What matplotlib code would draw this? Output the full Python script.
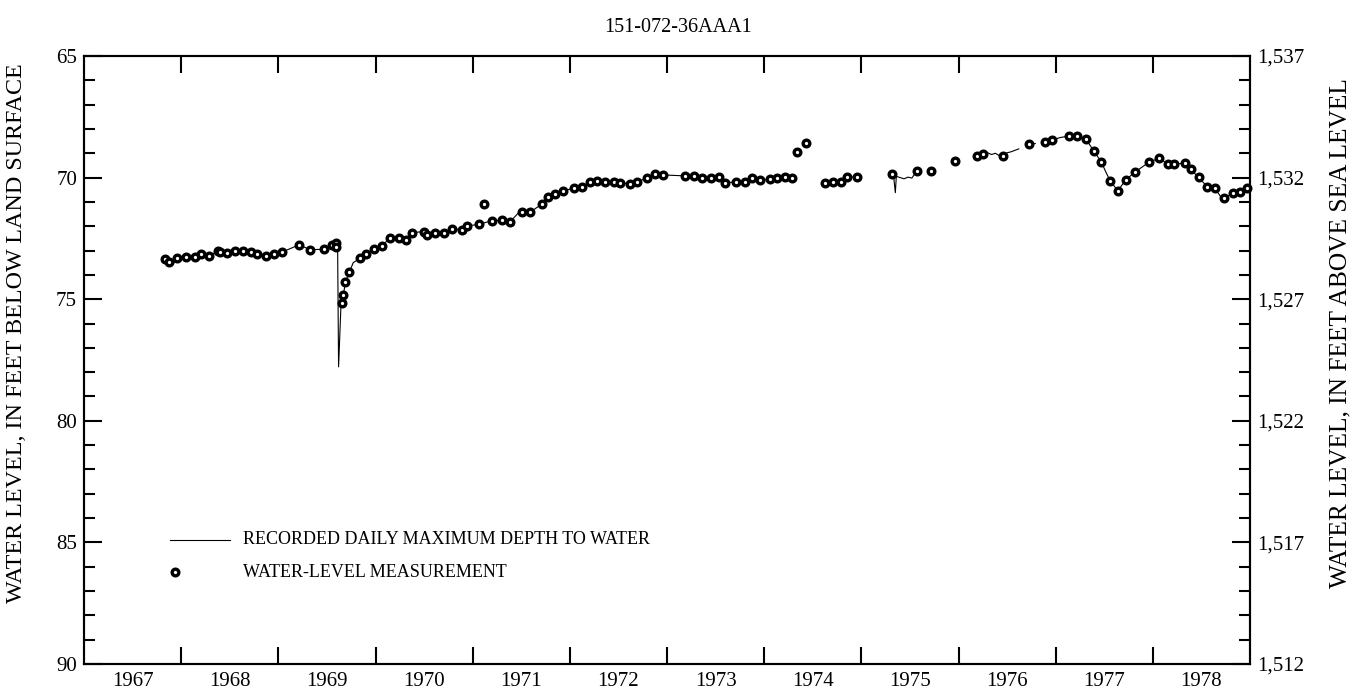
import numpy as np
import matplotlib.pyplot as plt
from matplotlib.ticker import MultipleLocator, FixedLocator, FuncFormatter

plt.rcParams['font.family'] = ['Liberation Serif', 'DejaVu Serif']

# water-level measurements (year, depth below land surface, ft)
meas_year = [1967.83, 1967.875, 1967.954, 1968.046, 1968.14, 1968.20, 1968.29, 1968.38, 1968.40,
             1968.475, 1968.55, 1968.64, 1968.72, 1968.78, 1968.87, 1968.96, 1969.04, 1969.21,
             1969.33, 1969.47, 1969.55, 1969.59, 1969.59, 1969.652, 1969.67, 1969.686, 1969.73,
             1969.84, 1969.90, 1969.98, 1970.07, 1970.15, 1970.24, 1970.31, 1970.38, 1970.50,
             1970.53, 1970.61, 1970.70, 1970.79, 1970.89, 1970.94, 1971.07, 1971.12, 1971.195,
             1971.30, 1971.38, 1971.51, 1971.59, 1971.71, 1971.78, 1971.85, 1971.93, 1972.04,
             1972.13, 1972.21, 1972.28, 1972.36, 1972.45, 1972.52, 1972.62, 1972.69, 1972.79,
             1972.88, 1972.955, 1973.19, 1973.28, 1973.36, 1973.45, 1973.535, 1973.60, 1973.71,
             1973.80, 1973.87, 1973.96, 1974.06, 1974.135, 1974.21, 1974.29, 1974.34, 1974.43,
             1974.63, 1974.71, 1974.79, 1974.85, 1974.96, 1975.32, 1975.57, 1975.72, 1975.96,
             1976.19, 1976.255, 1976.46, 1976.73, 1976.89, 1976.965, 1977.14, 1977.22, 1977.31,
             1977.39, 1977.47, 1977.56, 1977.64, 1977.72, 1977.82, 1977.96, 1978.06, 1978.16,
             1978.22, 1978.33, 1978.39, 1978.47, 1978.56, 1978.64, 1978.735, 1978.82, 1978.90,
             1978.97]
meas_depth = [73.36, 73.46, 73.29, 73.25, 73.25, 73.13, 73.21, 73.02, 73.05,
              73.11, 73.03, 73.02, 73.05, 73.13, 73.22, 73.13, 73.06, 72.77,
              72.96, 72.95, 72.77, 72.70, 72.84, 75.17, 74.83, 74.28, 73.89,
              73.32, 73.14, 72.94, 72.80, 72.47, 72.50, 72.57, 72.26, 72.22,
              72.36, 72.26, 72.26, 72.11, 72.15, 71.99, 71.92, 71.10, 71.77,
              71.76, 71.82, 71.43, 71.43, 71.09, 70.81, 70.67, 70.54, 70.44,
              70.37, 70.17, 70.14, 70.19, 70.19, 70.21, 70.26, 70.17, 70.03,
              69.85, 69.89, 69.93, 69.95, 70.03, 70.00, 69.96, 70.21, 70.18,
              70.17, 70.00, 70.10, 70.06, 70.03, 69.96, 70.00, 68.93, 68.59,
              70.24, 70.17, 70.17, 69.99, 69.96, 69.86, 69.73, 69.73, 69.32,
              69.11, 69.04, 69.11, 68.63, 68.55, 68.45, 68.29, 68.29, 68.41,
              68.89, 69.36, 70.13, 70.54, 70.10, 69.76, 69.37, 69.21, 69.44,
              69.44, 69.41, 69.66, 69.99, 70.37, 70.44, 70.85, 70.65, 70.58,
              70.44]

# recorded daily maximum depth to water (nan = no record)
rec_year = [1967.83, 1967.87, 1967.92, 1967.95, 1968.05, 1968.14, 1968.20, 1968.29, 1968.38,
            1968.47, 1968.55, 1968.64, 1968.72, 1968.78, 1968.87, 1968.96, 1969.04, 1969.21,
            1969.33, 1969.47, 1969.55, 1969.59, 1969.61, 1969.62, 1969.645, 1969.67, 1969.69,
            1969.73, 1969.77, 1969.84, 1969.90, 1969.98, 1970.07, 1970.15, 1970.24, 1970.31,
            1970.38, 1970.50, 1970.53, 1970.61, 1970.70, 1970.79, 1970.89, 1970.94, 1971.07,
            1971.195, 1971.30, 1971.38, 1971.49, 1971.59, 1971.71, 1971.78, 1971.85, 1971.93,
            1972.04, 1972.13, 1972.21, 1972.28, 1972.36, 1972.45, 1972.52, 1972.62, 1972.69,
            1972.79, 1972.88, 1972.955, 1973.19, 1973.28, 1973.36, 1973.45, 1973.535, 1973.60,
            1973.71, 1973.80, 1973.87, 1973.96, 1974.06, 1974.135, 1974.21, 1974.29, 1974.30,
            1974.63, 1974.71, 1974.79, 1974.85, 1974.96, 1974.97,
            1975.33, 1975.35, 1975.36, 1975.40, 1975.44, 1975.48, 1975.52, 1975.57, 1975.58,
            1976.255, 1976.30, 1976.34, 1976.38, 1976.42, 1976.46, 1976.50, 1976.54, 1976.58,
            1976.62, 1976.63,
            1976.74, 1976.79, 1976.80,
            1976.89, 1976.965, 1977.05, 1977.14, 1977.22, 1977.31, 1977.39, 1977.47, 1977.52,
            1977.56, 1977.64, 1977.72, 1977.82, 1977.96, 1978.06, 1978.16, 1978.22, 1978.33,
            1978.39, 1978.47, 1978.56, 1978.64, 1978.70, 1978.735, 1978.82, 1978.90, 1978.97,
            1979.0]
rec_depth = [73.36, 73.50, 73.55, 73.30, 73.25, 73.25, 73.13, 73.21, 73.02,
             73.11, 73.03, 73.02, 73.05, 73.13, 73.22, 73.13, 73.06, 72.77,
             72.96, 72.95, 72.77, 72.70, 72.75, 77.78, 75.20, 74.83, 74.28,
             73.91, 73.50, 73.32, 73.14, 72.94, 72.80, 72.47, 72.50, 72.57,
             72.26, 72.22, 72.36, 72.26, 72.26, 72.11, 72.15, 71.99, 71.92,
             71.77, 71.76, 71.84, 71.37, 71.43, 71.09, 70.81, 70.67, 70.54,
             70.44, 70.37, 70.17, 70.14, 70.19, 70.19, 70.21, 70.26, 70.17,
             70.03, 69.85, 69.89, 69.93, 69.96, 70.03, 70.00, 69.96, 70.21,
             70.18, 70.17, 70.00, 70.10, 70.06, 70.03, 69.96, 70.00, np.nan,
             70.24, 70.17, 70.17, 69.99, 69.96, np.nan,
             69.86, 70.62, 69.95, 70.00, 70.05, 69.98, 70.02, 69.73, np.nan,
             69.04, 68.98, 69.05, 69.00, 69.10, 69.06, 68.98, 68.94, 68.88,
             68.82, np.nan,
             68.62, 68.60, np.nan,
             68.55, 68.45, 68.35, 68.29, 68.29, 68.41, 68.89, 69.36, 69.80,
             70.13, 70.54, 70.10, 69.76, 69.37, 69.21, 69.44, 69.44, 69.41,
             69.66, 69.99, 70.37, 70.44, 70.80, 70.85, 70.65, 70.58, 70.44,
             70.45]

years = list(range(1967, 1979))
depth_ticks = [65, 70, 75, 80, 85, 90]
land_surface = 1602

fig = plt.figure(figsize=(13.56, 6.96), dpi=100)
ax = fig.add_axes([84 / 1356, 32 / 696, 1166 / 1356, 608 / 696])

ax.plot(rec_year, rec_depth, color='black', lw=0.8)
ax.plot(meas_year, meas_depth, 'o', ms=4.8, mfc='white', mec='black', mew=2.4, clip_on=False)

ax.set_xlim(1967, 1979)
ax.set_ylim(90, 65)

# year boundaries get ticks, labels sit mid-year
ax.xaxis.set_major_locator(FixedLocator([y + 1 for y in years[:-1]]))
ax.xaxis.set_minor_locator(FixedLocator([y + 0.5 for y in years]))
ax.xaxis.set_major_formatter(FuncFormatter(lambda v, p: ''))
ax.xaxis.set_minor_formatter(FuncFormatter(lambda v, p: str(int(v))))
ax.tick_params(axis='x', which='major', direction='in', length=12.5, width=1.5, top=True)
ax.tick_params(axis='x', which='minor', length=0, labelsize=15, pad=6)

ax.yaxis.set_major_locator(FixedLocator(depth_ticks))
ax.yaxis.set_minor_locator(MultipleLocator(1))
ax.tick_params(axis='y', which='major', direction='in', length=13, width=1.5, labelsize=15, pad=5)
ax.tick_params(axis='y', which='minor', direction='in', length=8, width=1.5)
for s in ax.spines.values():
    s.set_linewidth(1.5)

ax2 = ax.twinx()
ax2.set_ylim(land_surface - 90, land_surface - 65)
ax2.yaxis.set_major_locator(FixedLocator([land_surface - d for d in depth_ticks]))
ax2.yaxis.set_minor_locator(MultipleLocator(1))
ax2.yaxis.set_major_formatter(FuncFormatter(lambda v, p: f'{int(round(v)):,}'))
ax2.tick_params(axis='y', which='major', direction='in', length=13, width=1.5, labelsize=15, pad=5)
ax2.tick_params(axis='y', which='minor', direction='in', length=8, width=1.5)
for s in ax2.spines.values():
    s.set_linewidth(1.5)

# legend
ax.plot([0.0738, 0.1252], [0.204, 0.204], color='black', lw=0.8, transform=ax.transAxes)
ax.plot([0.078], [0.151], 'o', ms=4.8, mfc='white', mec='black', mew=2.4, transform=ax.transAxes)
ax.text(0.1364, 0.204, 'RECORDED DAILY MAXIMUM DEPTH TO WATER', transform=ax.transAxes,
        fontsize=13, va='center')
ax.text(0.1364, 0.151, 'WATER-LEVEL MEASUREMENT', transform=ax.transAxes,
        fontsize=13, va='center')

fig.text(0.5, 1 - 27 / 696, '151-072-36AAA1', ha='center', va='center', fontsize=14.5)
fig.text(17 / 1356, 0.521, 'WATER LEVEL, IN FEET BELOW LAND SURFACE', rotation=90,
         ha='center', va='center', fontsize=17.3)
fig.text(1340 / 1356, 0.521, 'WATER LEVEL, IN FEET ABOVE SEA LEVEL', rotation=90,
         ha='center', va='center', fontsize=18.3)

fig.savefig('out.png', dpi=100)
